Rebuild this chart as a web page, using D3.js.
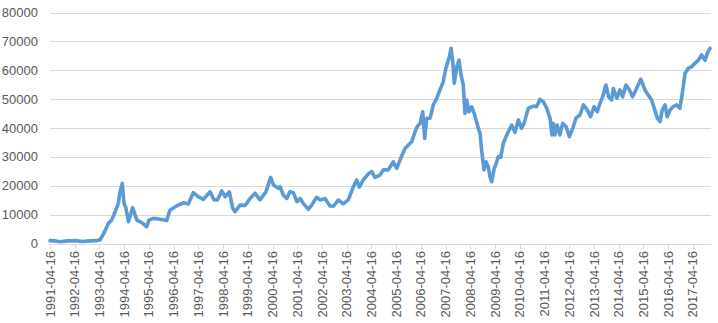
<!DOCTYPE html>
<html><head><meta charset="utf-8">
<script src="https://cdn.jsdelivr.net/npm/d3@7"></script>
<style>body{margin:0;background:#fff}svg{display:block}</style>
</head><body>
<script>
// decimal-year positions and values
const years = [1991.29,1991.5,1991.7,1992.0,1992.3,1992.6,1992.9,1993.1,1993.18,1993.31,1993.45,1993.65,1993.78,1993.92,1994.05,1994.12,1994.21,1994.28,1994.36,1994.46,1994.63,1994.80,1995.00,1995.20,1995.29,1995.47,1995.74,1996.01,1996.14,1996.41,1996.68,1996.88,1997.08,1997.29,1997.49,1997.76,1997.92,1998.06,1998.23,1998.37,1998.54,1998.68,1998.77,1998.97,1999.18,1999.38,1999.58,1999.78,2000.02,2000.21,2000.32,2000.52,2000.59,2000.72,2000.86,2000.99,2001.13,2001.27,2001.40,2001.53,2001.74,2001.87,2002.07,2002.21,2002.41,2002.61,2002.75,2002.95,2003.15,2003.35,2003.55,2003.69,2003.80,2003.96,2004.16,2004.30,2004.43,2004.63,2004.77,2004.97,2005.17,2005.31,2005.47,2005.65,2005.78,2005.92,2006.05,2006.14,2006.25,2006.36,2006.44,2006.52,2006.66,2006.79,2006.93,2007.06,2007.19,2007.30,2007.44,2007.51,2007.57,2007.64,2007.74,2007.83,2007.90,2008.00,2008.07,2008.14,2008.23,2008.34,2008.44,2008.54,2008.61,2008.68,2008.72,2008.79,2008.84,2008.92,2009.01,2009.08,2009.15,2009.24,2009.33,2009.42,2009.52,2009.62,2009.73,2009.82,2009.96,2010.09,2010.23,2010.36,2010.46,2010.63,2010.83,2010.97,2011.10,2011.24,2011.38,2011.51,2011.59,2011.64,2011.71,2011.80,2011.91,2012.02,2012.16,2012.29,2012.43,2012.56,2012.72,2012.86,2013.02,2013.15,2013.29,2013.42,2013.53,2013.64,2013.77,2013.88,2014.00,2014.07,2014.21,2014.34,2014.45,2014.58,2014.72,2014.85,2015.01,2015.18,2015.35,2015.48,2015.62,2015.75,2015.85,2015.96,2016.05,2016.16,2016.25,2016.36,2016.49,2016.63,2016.76,2016.87,2016.97,2017.10,2017.24,2017.37,2017.51,2017.64,2017.78,2017.87,2017.98,2018.06];
const values = [1000,900,600,900,1000,700,900,1000,1000,1300,3300,7000,8100,11000,13900,17900,20800,13900,12200,7550,12400,8100,7200,5800,8100,8700,8400,8000,11600,13000,14100,13700,17600,16200,15300,17900,15100,15100,18200,16200,17900,12200,11000,13300,13200,15600,17400,15100,17900,22900,20300,19100,19700,16800,15600,17900,17600,14500,15600,13900,11800,13300,16000,15100,15600,13000,12900,15100,13700,15100,19500,22000,19500,22000,24100,24900,22900,23700,25500,25500,28300,26000,29500,33000,34100,35300,38700,40500,41600,45600,36400,43400,43400,48000,50300,53200,56000,60700,64700,67600,63500,55500,61200,63500,58900,54900,45100,49700,45600,47400,45100,42200,39900,38200,34100,28900,25500,28300,26600,23100,21400,25500,27800,30100,29900,34700,37000,38700,41000,38500,42800,39900,41600,46800,47600,47400,49900,49100,46800,43400,37600,41600,37600,41000,37600,41600,40500,37000,39900,43400,44500,48000,46200,43900,47400,45600,48600,50800,54900,50800,49700,53700,50300,53200,50800,54900,53200,50800,53700,56900,53200,51400,49700,46200,43400,42200,46200,48000,43900,46200,47400,48000,46800,52600,58900,60700,61200,62400,63500,65300,63500,65900,67600];
const yTicks = [0,10000,20000,30000,40000,50000,60000,70000,80000];
const tickYears = d3.range(1991, 2018);

const W = 718, H = 323;
const toDate = t => { const y = Math.floor(t); const s = new Date(y,0,1), e = new Date(y+1,0,1); return new Date(+s + (t - y) * (e - s)); };
const data = years.map((t,i) => ({d: toDate(t), v: values[i]}));

const x = d3.scaleTime().domain([new Date(1991,3,16), toDate(2018.02)]).range([50, 711]);
const y = d3.scaleLinear().domain([0, 80000]).range([243.5, 12.5]);

const svg = d3.select("body").append("svg").attr("width", W).attr("height", H);

svg.append("g").selectAll("line").data(yTicks).join("line")
  .attr("x1", 50).attr("x2", 711)
  .attr("y1", d => Math.round(y(d)) + 0.5).attr("y2", d => Math.round(y(d)) + 0.5)
  .attr("stroke", "#d9d9d9").attr("stroke-width", 1);

svg.append("g").selectAll("text").data(yTicks).join("text")
  .attr("x", 38).attr("y", d => y(d)).attr("dy", "0.35em")
  .attr("text-anchor", "end")
  .attr("font-family", "'Liberation Sans', Arial, sans-serif").attr("font-size", 13)
  .attr("fill", "#595959").text(d => d);

const ticks = tickYears.map(yr => new Date(yr, 3, 16));
const fmt = d3.timeFormat("%Y-%m-%d");
svg.append("g").selectAll("line").data(ticks).join("line")
  .attr("x1", d => Math.round(x(d)) + 0.5).attr("x2", d => Math.round(x(d)) + 0.5)
  .attr("y1", 244).attr("y2", 249)
  .attr("stroke", "#d9d9d9");

svg.append("g").selectAll("text").data(ticks).join("text")
  .attr("transform", d => `translate(${x(d)},251) rotate(-90)`)
  .attr("text-anchor", "end").attr("dy", "0.35em")
  .attr("font-family", "'Liberation Sans', Arial, sans-serif").attr("font-size", 13)
  .attr("fill", "#595959").text(d => fmt(d));

svg.append("path").datum(data)
  .attr("fill", "none").attr("stroke", "#5B9BD5").attr("stroke-width", 3.6)
  .attr("stroke-linejoin", "round").attr("stroke-linecap", "round")
  .attr("d", d3.line().x(d => x(d.d)).y(d => y(d.v)));
</script>
</body></html>
